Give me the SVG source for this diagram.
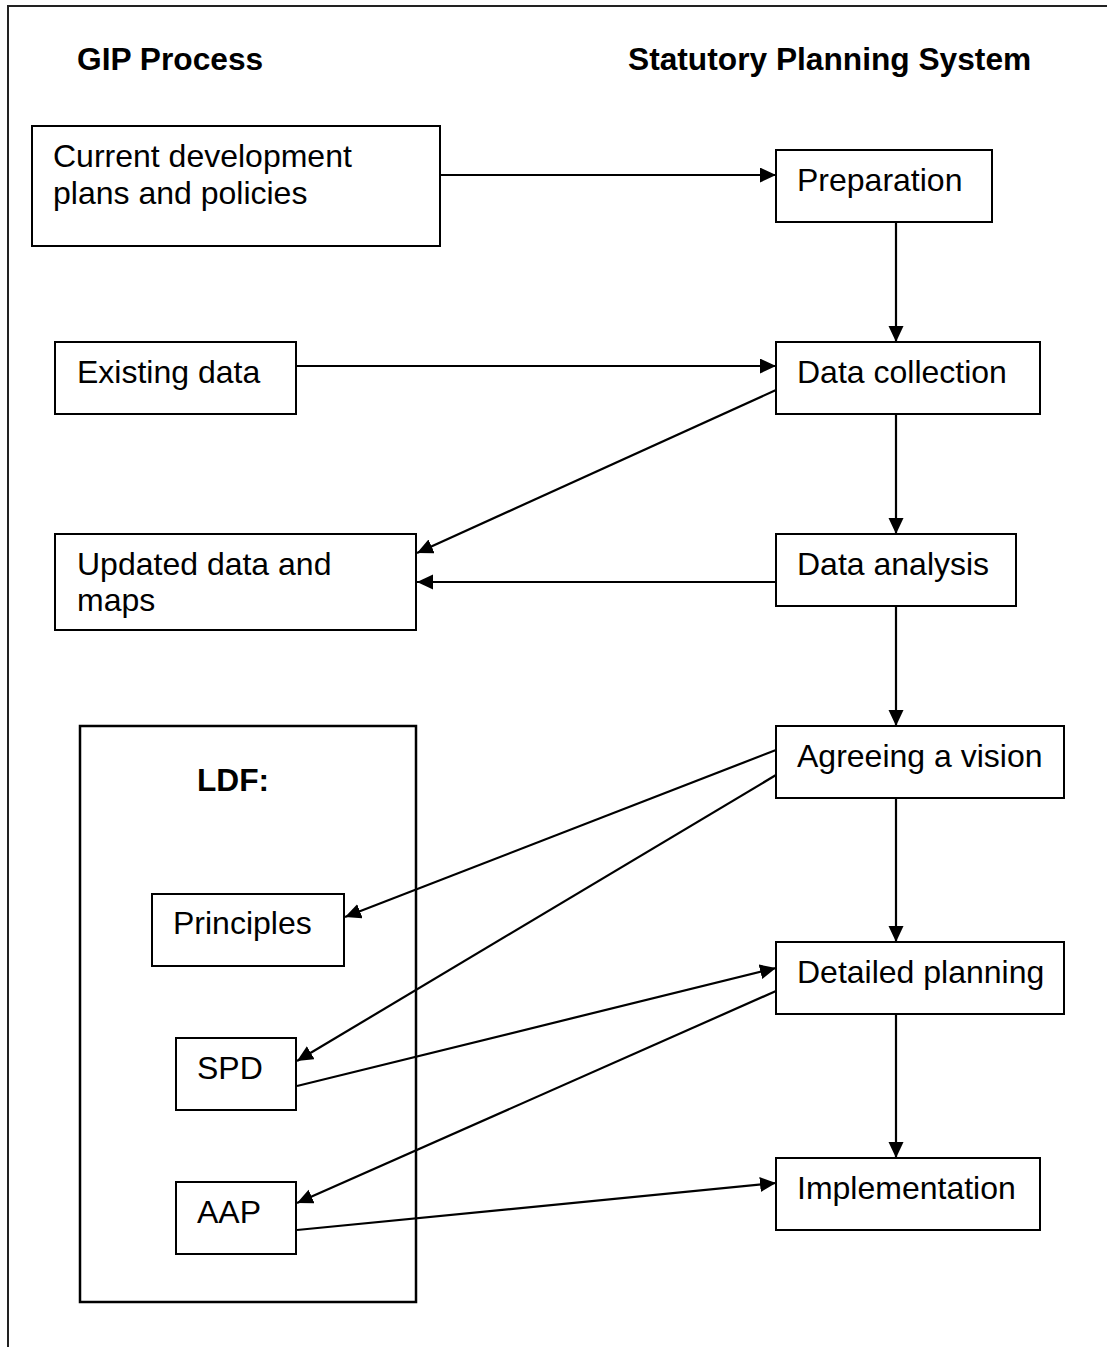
<svg xmlns="http://www.w3.org/2000/svg" width="1107" height="1347" viewBox="0 0 1107 1347">
  <style>
    .frame { fill: none; stroke: #222; stroke-width: 2; }
    .box { fill: #fff; stroke: #000; stroke-width: 2; }
    .group { fill: none; stroke: #000; stroke-width: 2.5; }
    .lbl { font-family: "Liberation Sans", Arial, sans-serif; font-size: 32px; fill: #000; }
    .hd { font-family: "Liberation Sans", Arial, sans-serif; font-size: 31.7px; font-weight: bold; fill: #000; }
    .conn { fill: none; stroke: #000; stroke-width: 2.2; marker-end: url(#arrow); }
  </style>
  <defs>
    <marker id="arrow" markerUnits="userSpaceOnUse" markerWidth="17" markerHeight="16" refX="16" refY="7.5" orient="auto">
      <path d="M0,0 L16,7.5 L0,15 z" fill="#000"/>
    </marker>
  </defs>

  <rect width="1107" height="1347" fill="#fff"/>

  <!-- page frame: top and left edges only -->
  <path class="frame" d="M8,1347 L8,6 L1107,6"/>

  <!-- column headings -->
  <text class="hd" x="77" y="70">GIP Process</text>
  <text class="hd" x="628" y="70">Statutory Planning System</text>

  <!-- connectors -->
  <g id="connectors">
    <line class="conn" x1="440" y1="175" x2="776" y2="175"/>
    <line class="conn" x1="296" y1="366" x2="776" y2="366"/>
    <line class="conn" x1="896" y1="222" x2="896" y2="342"/>
    <line class="conn" x1="896" y1="414" x2="896" y2="534"/>
    <line class="conn" x1="896" y1="606" x2="896" y2="726"/>
    <line class="conn" x1="896" y1="798" x2="896" y2="942"/>
    <line class="conn" x1="896" y1="1014" x2="896" y2="1158"/>
    <line class="conn" x1="776" y1="390" x2="417" y2="553"/>
    <line class="conn" x1="776" y1="582" x2="417" y2="582"/>
    <line class="conn" x1="776" y1="750" x2="345" y2="917"/>
    <line class="conn" x1="776" y1="775" x2="297" y2="1061"/>
    <line class="conn" x1="297" y1="1086" x2="776" y2="968"/>
    <line class="conn" x1="776" y1="991" x2="297" y2="1203"/>
    <line class="conn" x1="297" y1="1230" x2="776" y2="1183"/>
  </g>

  <!-- left column: GIP process -->
  <g id="current-plans">
    <rect class="box" x="32" y="126" width="408" height="120"/>
    <text class="lbl" x="53" y="167">Current development</text>
    <text class="lbl" x="53" y="203.5">plans and policies</text>
  </g>
  <g id="existing-data">
    <rect class="box" x="55" y="342" width="241" height="72"/>
    <text class="lbl" x="77" y="383">Existing data</text>
  </g>
  <g id="updated-data">
    <rect class="box" x="55" y="534" width="361" height="96"/>
    <text class="lbl" x="77" y="575">Updated data and</text>
    <text class="lbl" x="77" y="611">maps</text>
  </g>
  <g id="ldf">
    <rect class="group" x="80" y="726" width="336" height="576"/>
    <text class="hd" x="197" y="791">LDF:</text>
  </g>
  <g id="principles">
    <rect class="box" x="152" y="894" width="192" height="72"/>
    <text class="lbl" x="173" y="934">Principles</text>
  </g>
  <g id="spd">
    <rect class="box" x="176" y="1038" width="120" height="72"/>
    <text class="lbl" x="197" y="1079">SPD</text>
  </g>
  <g id="aap">
    <rect class="box" x="176" y="1182" width="120" height="72"/>
    <text class="lbl" x="197" y="1223">AAP</text>
  </g>

  <!-- right column: statutory planning stages -->
  <g id="preparation">
    <rect class="box" x="776" y="150" width="216" height="72"/>
    <text class="lbl" x="797" y="191">Preparation</text>
  </g>
  <g id="data-collection">
    <rect class="box" x="776" y="342" width="264" height="72"/>
    <text class="lbl" x="797" y="383">Data collection</text>
  </g>
  <g id="data-analysis">
    <rect class="box" x="776" y="534" width="240" height="72"/>
    <text class="lbl" x="797" y="575">Data analysis</text>
  </g>
  <g id="agreeing-vision">
    <rect class="box" x="776" y="726" width="288" height="72"/>
    <text class="lbl" x="797" y="767">Agreeing a vision</text>
  </g>
  <g id="detailed-planning">
    <rect class="box" x="776" y="942" width="288" height="72"/>
    <text class="lbl" x="797" y="983">Detailed planning</text>
  </g>
  <g id="implementation">
    <rect class="box" x="776" y="1158" width="264" height="72"/>
    <text class="lbl" x="797" y="1199">Implementation</text>
  </g>
</svg>
